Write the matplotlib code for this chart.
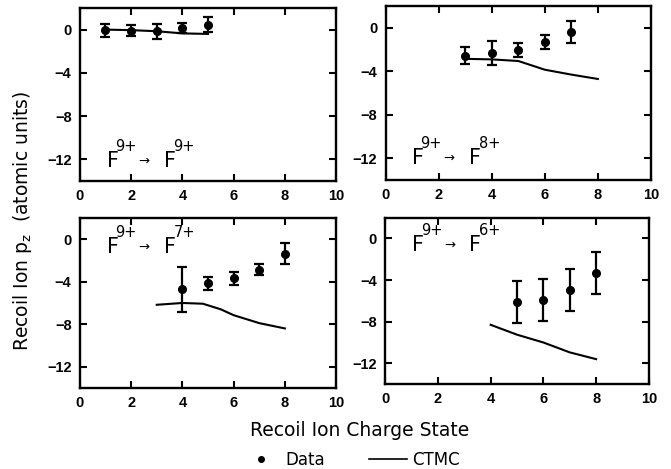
import numpy as np
import matplotlib.pyplot as plt
from matplotlib.lines import Line2D

plt.rcParams['font.family'] = ['DejaVu Sans']

# data: recoil ion charge state vs p_z (a.u.)
final_q = ['9+', '8+', '7+', '6+']

q_99 = [1, 2, 3, 4, 5]
pz_99 = [-0.05, -0.1, -0.15, 0.15, 0.45]
err_99 = [0.6, 0.5, 0.7, 0.45, 0.7]
ctmc_q_99 = [1, 2, 3, 4, 5]
ctmc_99 = [0.0, -0.05, -0.15, -0.35, -0.4]

q_98 = [3, 4, 5, 6, 7]
pz_98 = [-2.55, -2.3, -2.05, -1.3, -0.35]
err_98 = [0.78, 1.13, 0.65, 0.6, 1.02]
ctmc_q_98 = [3, 4, 5, 5.5, 6, 7, 8]
ctmc_98 = [-2.85, -2.9, -3.05, -3.45, -3.85, -4.3, -4.7]

q_97 = [4, 5, 6, 7, 8]
pz_97 = [-4.73, -4.14, -3.68, -2.87, -1.37]
err_97 = [2.13, 0.62, 0.63, 0.5, 1.0]
ctmc_q_97 = [3, 4, 4.8, 5.5, 6, 7, 8]
ctmc_97 = [-6.17, -6.0, -6.07, -6.6, -7.15, -7.9, -8.4]

q_96 = [5, 6, 7, 8]
pz_96 = [-6.1, -5.9, -4.95, -3.3]
err_96 = [2.0, 2.03, 2.0, 2.0]
ctmc_q_96 = [4, 5, 6, 7, 8]
ctmc_96 = [-8.3, -9.25, -10.0, -10.95, -11.6]

panels = [
    (q_99, pz_99, err_99, ctmc_q_99, ctmc_99),
    (q_98, pz_98, err_98, ctmc_q_98, ctmc_98),
    (q_97, pz_97, err_97, ctmc_q_97, ctmc_97),
    (q_96, pz_96, err_96, ctmc_q_96, ctmc_96),
]
label_xy = [(1.04, -12.7), (0.97, -12.5), (1.04, -1.26), (1.01, -1.18)]


def charge_label(ax, x, y, q):
    # F^9+ -> F^q+ built from pieces so the superscripts sit high like the original
    kw = dict(xy=(x, y), textcoords='offset pixels', va='baseline', ha='left')
    ax.annotate('F', xytext=(0, 0), fontsize=15, **kw)
    ax.annotate('9+', xytext=(9, 15.5), fontsize=10.5, **kw)
    ax.annotate('\u2192', xytext=(32, 2), fontsize=9.5, **kw)
    ax.annotate('F', xytext=(57, 0), fontsize=15, **kw)
    ax.annotate(q, xytext=(67, 15.5), fontsize=10.5, **kw)


fig = plt.figure(figsize=(6.71, 4.69), dpi=100)
boxes = [[0.119, 0.614, 0.382, 0.369], [0.575, 0.616, 0.395, 0.371],
         [0.119, 0.173, 0.382, 0.362], [0.574, 0.181, 0.393, 0.355]]

for i in range(4):
    q, pz, err, cq, cv = panels[i]
    ax = fig.add_axes(boxes[i])
    ax.errorbar(q, pz, yerr=err, fmt='o', color='black', ms=5.5,
                elinewidth=1.6, capsize=3.5, capthick=1.6)
    ax.plot(cq, cv, color='black', lw=1.5)
    ax.set_xlim(0, 10)
    ax.set_ylim(-14, 2)
    ax.set_xticks([0, 2, 4, 6, 8, 10])
    ax.set_yticks([0, -4, -8, -12])
    ax.set_yticklabels(['0', '\u22124', '\u22128', '\u221212'])
    ax.tick_params(direction='in', top=True, right=True, length=5, width=1.5,
                   labelsize=10.5, pad=6)
    for t in ax.get_xticklabels() + ax.get_yticklabels():
        t.set_fontweight('bold')
        t.set_family('Liberation Sans')
    for s in ax.spines.values():
        s.set_linewidth(1.7)
    charge_label(ax, label_xy[i][0], label_xy[i][1], final_q[i])

fig.text(0.033, 0.529, r'Recoil Ion $\mathregular{p_z}$  (atomic units)', rotation=90,
         ha='center', va='center', fontsize=13.5)
fig.text(0.536, 0.083, 'Recoil Ion Charge State', ha='center', va='center', fontsize=13.5)

h_dat = Line2D([], [], marker='o', ls='none', color='black', ms=4)
h_line = Line2D([], [], color='black', lw=1.2)
fig.legend([h_dat, h_line], ['Data', 'CTMC'], ncol=2, frameon=False, fontsize=12,
           loc='center', bbox_to_anchor=(0.523, 0.02), handlelength=2.3,
           columnspacing=2.6, handletextpad=0.3, borderpad=0, borderaxespad=0)

plt.savefig('out.png', dpi=100)
